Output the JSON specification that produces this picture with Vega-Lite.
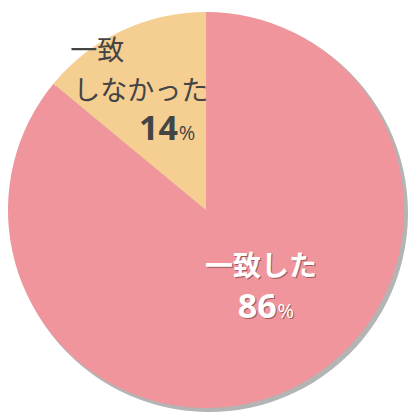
{
  "$schema": "https://vega.github.io/schema/vega-lite/v6.json",
  "autosize": {"type": "fit", "contains": "padding"},
  "width": 420,
  "height": 420,
  "padding": {"left": 0, "right": 8, "top": 0, "bottom": 0},
  "background": "white",
  "config": {"view": {"stroke": null}},
  "data": {
    "values": [
      {"結果": "一致した", "割合": 86, "順": 1, "数": "86"},
      {"結果": "一致しなかった", "割合": 14, "順": 2, "数": "14"}
    ]
  },
  "encoding": {
    "theta": {"field": "割合", "type": "quantitative", "stack": true},
    "order": {"field": "順", "type": "quantitative"}
  },
  "layer": [
    {
      "mark": {"type": "arc", "radius": 199, "color": "#b4b4b4", "xOffset": 3, "yOffset": 3}
    },
    {
      "mark": {"type": "arc", "radius": 198},
      "encoding": {
        "color": {
          "field": "結果",
          "type": "nominal",
          "scale": {"domain": ["一致した", "一致しなかった"], "range": ["#f0959b", "#f5cf92"]},
          "legend": null
        }
      }
    },
    {
      "mark": {"type": "text", "radius": 75, "dx": 24, "dy": -9, "font": "Noto Sans CJK JP", "fontSize": 28, "fontWeight": "bold", "color": "#9a5a5e"},
      "encoding": {"text": {"condition": {"test": "datum['順'] == 1", "field": "結果"}, "value": ""}}
    },
    {
      "mark": {"type": "text", "radius": 75, "dx": 23, "dy": -10, "font": "Noto Sans CJK JP", "fontSize": 28, "fontWeight": "bold", "color": "white"},
      "encoding": {"text": {"condition": {"test": "datum['順'] == 1", "field": "結果"}, "value": ""}}
    },
    {
      "mark": {"type": "text", "radius": 100, "dx": 29, "dy": 19, "align": "right", "baseline": "alphabetic", "font": "Open Sans", "fontSize": 34, "fontWeight": "bold", "color": "#9a5a5e"},
      "encoding": {"text": {"condition": {"test": "datum['順'] == 1", "field": "数"}, "value": ""}}
    },
    {
      "mark": {"type": "text", "radius": 100, "dx": 28, "dy": 18, "align": "right", "baseline": "alphabetic", "font": "Open Sans", "fontSize": 34, "fontWeight": "bold", "color": "white"},
      "encoding": {"text": {"condition": {"test": "datum['順'] == 1", "field": "数"}, "value": ""}}
    },
    {
      "mark": {"type": "text", "radius": 100, "dx": 30, "dy": 19, "align": "left", "baseline": "alphabetic", "font": "Open Sans", "fontSize": 20, "color": "#9a5a5e"},
      "encoding": {"text": {"condition": {"test": "datum['順'] == 1", "value": "%"}, "value": ""}}
    },
    {
      "mark": {"type": "text", "radius": 100, "dx": 29, "dy": 18, "align": "left", "baseline": "alphabetic", "font": "Open Sans", "fontSize": 20, "color": "white"},
      "encoding": {"text": {"condition": {"test": "datum['順'] == 1", "value": "%"}, "value": ""}}
    },
    {
      "mark": {"type": "text", "radius": 150, "dx": -72, "dy": -22, "align": "left", "font": "Noto Sans CJK JP", "fontSize": 27, "color": "#444444"},
      "encoding": {"text": {"condition": {"test": "datum['順'] == 2", "value": "一致"}, "value": ""}}
    },
    {
      "mark": {"type": "text", "radius": 150, "dx": -69, "dy": 18, "align": "left", "font": "Noto Sans CJK JP", "fontSize": 27, "color": "#444444"},
      "encoding": {"text": {"condition": {"test": "datum['順'] == 2", "value": "しなかった"}, "value": ""}}
    },
    {
      "mark": {"type": "text", "radius": 92, "dx": 11, "dy": 13, "align": "right", "baseline": "alphabetic", "font": "Open Sans", "fontSize": 34, "fontWeight": "bold", "color": "#444444"},
      "encoding": {"text": {"condition": {"test": "datum['順'] == 2", "field": "数"}, "value": ""}}
    },
    {
      "mark": {"type": "text", "radius": 92, "dx": 12, "dy": 13, "align": "left", "baseline": "alphabetic", "font": "Open Sans", "fontSize": 20, "color": "#444444"},
      "encoding": {"text": {"condition": {"test": "datum['順'] == 2", "value": "%"}, "value": ""}}
    }
  ]
}
